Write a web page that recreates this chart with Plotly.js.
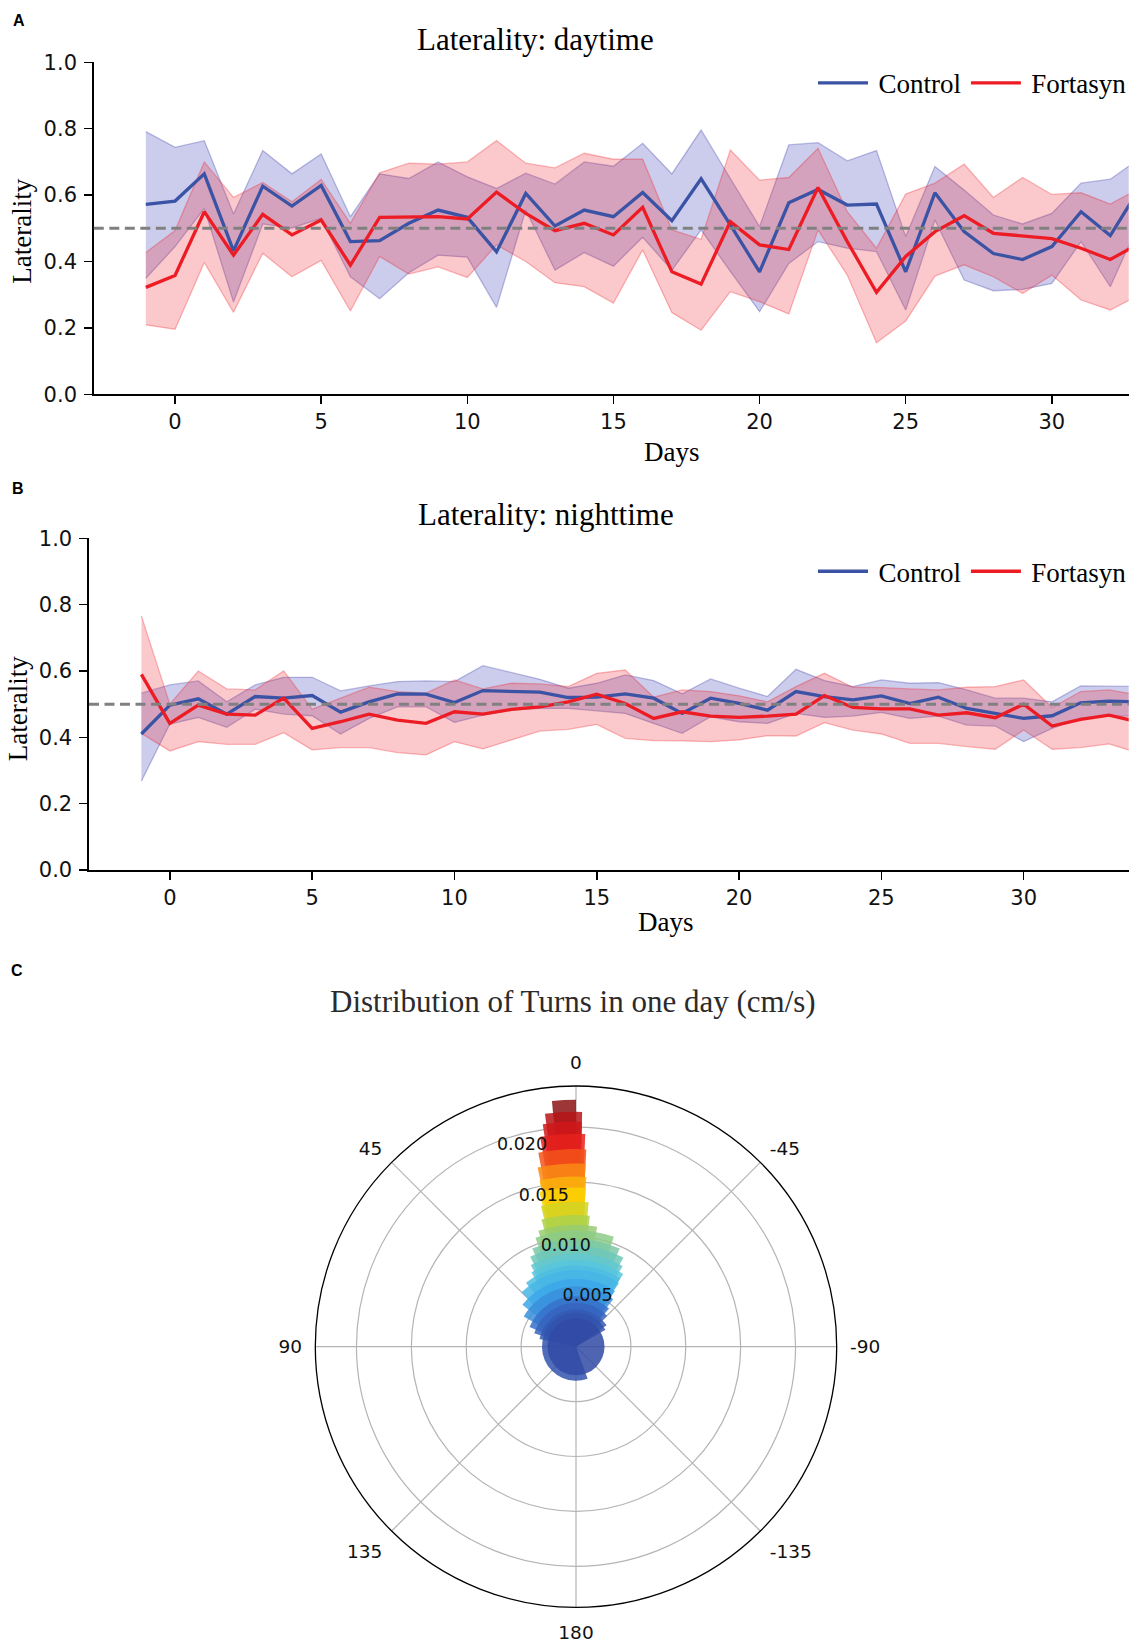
<!DOCTYPE html>
<html>
<head>
<meta charset="utf-8">
<script src="https://cdn.plot.ly/plotly-3.0.1.min.js"></script>
<style>
html,body{margin:0;padding:0;background:#ffffff;}
#chart{width:1138px;height:1644px;}
</style>
</head>
<body>
<div id="chart"></div>
<script>
// ---------------- data ----------------
// Panel A: Laterality daytime
const daysDay = [-1,0,1,2,3,4,5,6,7,8,9,10,11,12,13,14,15,16,17,18,19,20,21,22,23,24,25,26,27,28,29,30,31,32,33];
const ctrlDayMean = [0.572,0.582,0.664,0.432,0.627,0.567,0.629,0.460,0.463,0.515,0.555,0.533,0.429,0.605,0.507,0.555,0.535,0.608,0.523,0.649,0.510,0.369,0.577,0.617,0.570,0.573,0.369,0.607,0.490,0.424,0.406,0.445,0.550,0.478,0.620];
const ctrlDayUpper = [0.791,0.744,0.764,0.543,0.734,0.664,0.724,0.535,0.664,0.650,0.700,0.655,0.620,0.666,0.633,0.700,0.687,0.756,0.664,0.796,0.650,0.505,0.751,0.758,0.703,0.734,0.475,0.686,0.615,0.540,0.513,0.545,0.636,0.648,0.710];
const ctrlDayLower = [0.349,0.445,0.560,0.278,0.513,0.501,0.530,0.354,0.288,0.366,0.419,0.413,0.262,0.555,0.374,0.427,0.386,0.473,0.374,0.495,0.370,0.249,0.394,0.460,0.440,0.430,0.254,0.525,0.344,0.312,0.316,0.334,0.460,0.324,0.520];
const fortDayMean = [0.322,0.358,0.550,0.419,0.542,0.480,0.525,0.389,0.533,0.533,0.535,0.528,0.609,0.545,0.493,0.515,0.480,0.563,0.369,0.332,0.520,0.450,0.436,0.623,0.460,0.307,0.415,0.490,0.538,0.485,0.477,0.469,0.440,0.406,0.455];
const fortDayUpper = [0.427,0.493,0.700,0.593,0.638,0.580,0.647,0.515,0.667,0.696,0.693,0.700,0.764,0.696,0.682,0.726,0.708,0.708,0.495,0.467,0.736,0.645,0.653,0.741,0.550,0.440,0.603,0.636,0.693,0.593,0.653,0.602,0.607,0.573,0.620];
const fortDayLower = [0.209,0.196,0.397,0.247,0.425,0.354,0.403,0.251,0.415,0.362,0.384,0.352,0.450,0.400,0.336,0.324,0.275,0.435,0.246,0.193,0.309,0.279,0.242,0.495,0.359,0.155,0.221,0.356,0.390,0.354,0.304,0.359,0.284,0.254,0.300];

// Panel B: Laterality nighttime
const daysNight = [-1,0,1,2,3,4,5,6,7,8,9,10,11,12,13,14,15,16,17,18,19,20,21,22,23,24,25,26,27,28,29,30,31,32,33,34];
const ctrlNightMean = [0.410,0.497,0.516,0.470,0.523,0.518,0.526,0.476,0.507,0.531,0.530,0.505,0.541,0.538,0.536,0.520,0.521,0.531,0.518,0.472,0.518,0.502,0.482,0.538,0.523,0.513,0.525,0.502,0.521,0.487,0.472,0.457,0.465,0.504,0.509,0.507];
const ctrlNightUpper = [0.533,0.558,0.570,0.507,0.558,0.581,0.581,0.540,0.555,0.568,0.570,0.568,0.616,0.595,0.575,0.548,0.563,0.588,0.571,0.531,0.576,0.548,0.523,0.605,0.571,0.553,0.573,0.563,0.565,0.543,0.518,0.518,0.507,0.555,0.553,0.553];
const ctrlNightLower = [0.268,0.440,0.460,0.430,0.485,0.470,0.465,0.410,0.457,0.492,0.492,0.445,0.467,0.482,0.487,0.487,0.480,0.472,0.442,0.412,0.462,0.447,0.442,0.472,0.460,0.464,0.475,0.457,0.464,0.437,0.434,0.387,0.427,0.457,0.464,0.464];
const fortNightMean = [0.590,0.442,0.497,0.470,0.467,0.518,0.427,0.447,0.470,0.452,0.442,0.477,0.470,0.484,0.492,0.507,0.530,0.502,0.457,0.477,0.464,0.460,0.464,0.470,0.526,0.490,0.486,0.486,0.467,0.474,0.459,0.500,0.434,0.454,0.467,0.447];
const fortNightUpper = [0.766,0.500,0.600,0.546,0.543,0.600,0.485,0.518,0.551,0.538,0.533,0.573,0.546,0.563,0.561,0.553,0.593,0.603,0.521,0.543,0.538,0.525,0.507,0.553,0.593,0.551,0.550,0.546,0.543,0.551,0.553,0.573,0.490,0.538,0.543,0.528];
const fortNightLower = [0.412,0.359,0.387,0.379,0.379,0.414,0.362,0.369,0.369,0.354,0.347,0.387,0.365,0.392,0.419,0.424,0.439,0.397,0.390,0.389,0.387,0.392,0.405,0.404,0.444,0.422,0.410,0.382,0.382,0.372,0.364,0.422,0.364,0.369,0.380,0.354];

// Panel C: distribution of turns (polar bars); each bar = height r spanning angle [right, left] (deg, 0 = up, + = counter-clockwise)
const turnR     = [0.0225,0.0214,0.0205,0.0194,0.0180,0.0167,0.0155,0.0145,0.0132,0.0120,0.0111,0.0106,0.0098,0.0092,0.0085,0.0079,0.0074,0.0070,0.0062,0.0055,0.0046,0.0040,0.0034,0.0031,0.0026];
const turnLeft  = [5.6,7.6,8.5,9.7,11,12.1,12.4,13.3,14,15.2,18,20.4,24,27,29,31,38,45,52,60,67,72,78,200,180];
const turnRight = [0,-1.5,-1.5,-2.5,-3,-3,-3.5,-3.5,-5,-6,-10,-19,-24,-28,-30,-33,-33,-34,-35,-38,-41,-45,-55,-60,-180];

const angTickVals = [0,45,90,135,180,225,270,315];
const angTickText = ['0','45','90','135','180','-135','-90','-45'];
const radTickVals = [0.005,0.010,0.015,0.020];
const radTickText = ['0.005','0.010','0.015','0.020'];

const seriesNames = ['Control','Fortasyn'];

// ---------------- helpers ----------------
const W = 1138, H = 1644;
const fx = px => px / W;
const fy = py => 1 - py / H;

const BLUE = '#3b53a4', RED = '#ed1c24';
const BLUE_FILL = 'rgba(68,68,185,0.27)', BLUE_EDGE = 'rgba(70,70,175,0.35)';
const RED_FILL = 'rgba(237,28,36,0.24)', RED_EDGE = 'rgba(237,28,36,0.30)';

// jet-like colour map as it appears (semi-transparent) in the figure
const turnColorscale = [
  [0.00,'rgb(30,40,130)'],[0.12,'rgb(50,75,165)'],[0.20,'rgb(55,110,200)'],[0.28,'rgb(60,170,235)'],
  [0.36,'rgb(90,200,220)'],[0.44,'rgb(125,200,165)'],[0.54,'rgb(175,210,70)'],[0.64,'rgb(250,215,0)'],
  [0.74,'rgb(250,140,20)'],[0.85,'rgb(235,35,30)'],[0.93,'rgb(200,20,25)'],[1.00,'rgb(140,20,20)']
];

function band(x, lo, hi, edge, fill, xa, ya) {
  return [
    {x:x, y:lo, type:'scatter', mode:'lines', line:{color:edge, width:1.3}, xaxis:xa, yaxis:ya, showlegend:false, hoverinfo:'skip'},
    {x:x, y:hi, type:'scatter', mode:'lines', fill:'tonexty', fillcolor:fill, line:{color:edge, width:1.3}, xaxis:xa, yaxis:ya, showlegend:false, hoverinfo:'skip'}
  ];
}
function meanLine(x, y, color, name, xa, ya, leg) {
  return {x:x, y:y, type:'scatter', mode:'lines', name:'\u2009' + name, line:{color:color, width:3.3}, xaxis:xa, yaxis:ya, legend:leg};
}

const traces = [];
// fills below, lines above (like matplotlib z-order)
traces.push(...band(daysDay, ctrlDayLower, ctrlDayUpper, BLUE_EDGE, BLUE_FILL, 'x', 'y'));
traces.push(...band(daysDay, fortDayLower, fortDayUpper, RED_EDGE, RED_FILL, 'x', 'y'));
traces.push(meanLine(daysDay, ctrlDayMean, BLUE, seriesNames[0], 'x', 'y', 'legend'));
traces.push(meanLine(daysDay, fortDayMean, RED, seriesNames[1], 'x', 'y', 'legend'));

traces.push(...band(daysNight, ctrlNightLower, ctrlNightUpper, BLUE_EDGE, BLUE_FILL, 'x2', 'y2'));
traces.push(...band(daysNight, fortNightLower, fortNightUpper, RED_EDGE, RED_FILL, 'x2', 'y2'));
traces.push(meanLine(daysNight, ctrlNightMean, BLUE, seriesNames[0], 'x2', 'y2', 'legend2'));
traces.push(meanLine(daysNight, fortNightMean, RED, seriesNames[1], 'x2', 'y2', 'legend2'));

traces.push({
  type:'barpolar', subplot:'polar',
  r: turnR,
  theta: turnR.map((_, i) => (turnLeft[i] + turnRight[i]) / 2),
  width: turnR.map((_, i) => turnLeft[i] - turnRight[i]),
  marker:{color: turnR, colorscale:turnColorscale, cmin:0, cmax:0.0225, opacity:0.85, line:{width:0}},
  showlegend:false, hoverinfo:'skip'
});

const tickFont = {family:'DejaVu Sans', size:21, color:'#111'};
const serif = 'Liberation Serif';

function xAxis(domain, range, anchor) {
  return {domain:domain, range:range, anchor:anchor, tickmode:'array', tickvals:[0,5,10,15,20,25,30],
    showline:true, linecolor:'#000', linewidth:1.6, ticks:'outside', ticklen:8, tickwidth:1.5, tickcolor:'#000',
    showgrid:false, zeroline:false, tickfont:tickFont, ticklabelstandoff:0};
}
function yAxis(domain, anchor) {
  return {domain:domain, range:[0,1], anchor:anchor, tickmode:'array', tickvals:[0,0.2,0.4,0.6,0.8,1.0], tickformat:'.1f',
    showline:true, linecolor:'#000', linewidth:1.6, ticks:'outside', ticklen:8, tickwidth:1.5, tickcolor:'#000',
    showgrid:false, zeroline:false, tickfont:tickFont, ticklabelstandoff:3};
}

function ann(text, x, y, size, family, extra) {
  return Object.assign({text:text, x:fx(x), y:fy(y), xref:'paper', yref:'paper', showarrow:false,
    xanchor:'center', yanchor:'middle', font:{family:family, size:size, color:'#000'}}, extra || {});
}

const legendBase = {xanchor:'right', yanchor:'middle', orientation:'h', bgcolor:'rgba(0,0,0,0)', traceorder:'normal',
  font:{family:serif, size:27, color:'#000'}, itemwidth:50, tracegroupgap:0};

const layout = {
  width:W, height:H, margin:{l:0, r:0, t:0, b:0},
  paper_bgcolor:'#fff', plot_bgcolor:'#fff',
  xaxis: xAxis([fx(93.8), fx(1128.7)], [-2.78, 32.63], 'y'),
  yaxis: yAxis([fy(394.3), fy(62.3)], 'x'),
  xaxis2: xAxis([fx(89), fx(1128.7)], [-2.84, 33.69], 'y2'),
  yaxis2: yAxis([fy(870), fy(538.3)], 'x2'),
  legend: Object.assign({x:fx(1132), y:fy(83.3)}, legendBase),
  legend2: Object.assign({x:fx(1132), y:fy(571.7)}, legendBase),
  polar: {
    barmode:'overlay',
    domain:{x:[fx(315.3), fx(836.7)], y:[fy(1607.4), fy(1086)]},
    bgcolor:'#fff',
    angularaxis:{rotation:90, direction:'counterclockwise', tickmode:'array', tickvals:angTickVals, ticktext:angTickText,
      showline:true, linecolor:'#000', linewidth:1.3, gridcolor:'#b4b4b4', gridwidth:1.2,
      ticks:'outside', ticklen:9, tickcolor:'rgba(0,0,0,0)',
      tickfont:{family:'DejaVu Sans', size:18.5, color:'#111'}},
    radialaxis:{range:[0,0.02375], tickmode:'array', tickvals:radTickVals, ticktext:radTickText, angle:113.5, tickangle:113.5,
      showline:false, ticks:'', gridcolor:'#b4b4b4', gridwidth:1.2,
      tickfont:{family:'DejaVu Sans', size:17.5, color:'#111'}}
  },
  shapes: [
    {type:'line', xref:'x domain', yref:'y', x0:0, x1:1, y0:0.5, y1:0.5, line:{color:'#808080', width:3, dash:'10px,5.5px'}, layer:'above'},
    {type:'line', xref:'x2 domain', yref:'y2', x0:0, x1:1, y0:0.5, y1:0.5, line:{color:'#808080', width:3, dash:'10px,5.5px'}, layer:'above'}
  ],
  annotations: [
    ann('<b>A</b>', 19, 20.5, 16, 'Liberation Sans'),
    ann('<b>B</b>', 17.5, 488, 16, 'Liberation Sans'),
    ann('<b>C</b>', 17, 970, 16, 'Liberation Sans'),
    ann('Laterality: daytime', 535, 40, 31, serif),
    ann('Laterality: nighttime', 546, 514, 31, serif),
    ann('Distribution of Turns in one day (cm/s)', 572.6, 1001.6, 31, serif, {font:{family:serif, size:31, color:'#2b2b2b'}}),
    ann('Days', 671.7, 452, 27, serif),
    ann('Days', 666.4, 922, 27, serif),
    ann('Laterality', 22, 231.7, 27, serif, {textangle:-90}),
    ann('Laterality', 18.2, 709, 27, serif, {textangle:-90})
  ]
};

Plotly.newPlot('chart', traces, layout, {staticPlot:true, displayModeBar:false});
</script>
</body>
</html>
